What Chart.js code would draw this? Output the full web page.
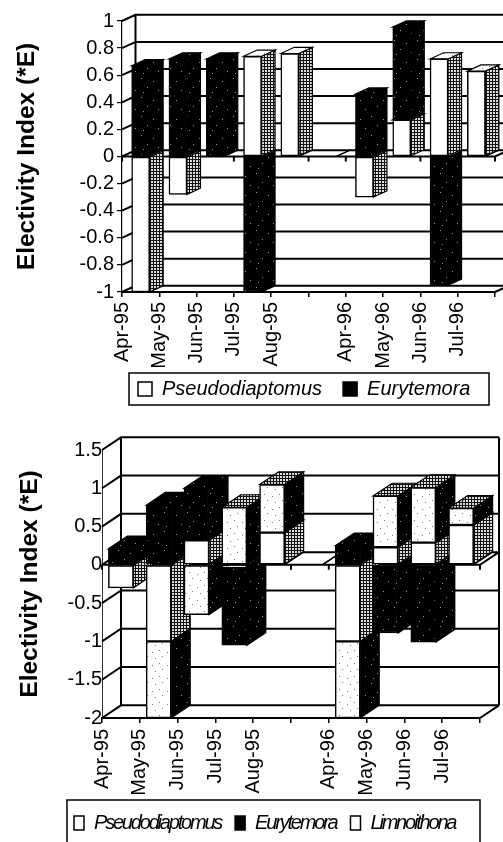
<!DOCTYPE html>
<html lang="en">
<head>
<meta charset="UTF-8">
<title>Electivity Index</title>
<script src="https://cdn.jsdelivr.net/npm/chart.js@4"></script>
<style>
html,body{margin:0;padding:0;background:#fff;overflow:hidden}
canvas{position:absolute;left:0}
</style>
</head>
<body>
<canvas id="top" width="503" height="415" style="top:0"></canvas>
<canvas id="bottom" width="503" height="427" style="top:415px"></canvas>
<script>
const months = ['Apr-95','May-95','Jun-95','Jul-95','Aug-95','','Apr-96','May-96','Jun-96','Jul-96'];

const topTicks = [1,0.8,0.6,0.4,0.2,0,-0.2,-0.4,-0.6,-0.8,-1];
const topPseudo = [-1,-0.28,null,0.74,0.76,null,-0.3,0.27,0.72,0.63];
const topEury = [0.67,0.72,0.72,-1,null,null,0.46,0.685,-0.95,null];

const bottomTicks = [1.5,1,0.5,0,-0.5,-1,-1.5,-2];
const bottomPseudo = [-0.3,-1,0.32,-0.03,0.42,null,-1,0.23,0.29,0.52];
const bottomEury = [0.21,0.78,0.68,-1.02,null,null,0.25,-0.89,-1.01,null];
const bottomLimno = [null,-1,-0.65,0.75,0.63,null,-1,0.67,0.72,0.22];

const FONT = "'Liberation Sans', Arial, sans-serif";
Chart.defaults.font.family = FONT;
Chart.defaults.color = '#000';

// small tiled fills standing in for the scanned halftones
function tile(w, h, bg, ink, dots) {
  const c = document.createElement('canvas');
  c.width = w; c.height = h;
  const g = c.getContext('2d');
  g.fillStyle = bg; g.fillRect(0, 0, w, h);
  g.fillStyle = ink;
  dots.forEach(d => g.fillRect(d[0], d[1], 1, 1));
  return g.createPattern(c, 'repeat');
}
const specked = tile(23, 19, '#000', '#999', [[3,2],[15,5],[9,11],[20,14],[5,16]]);
const dotted = tile(15, 13, '#fff', '#777', [[2,3],[9,1],[12,7],[5,9]]);
const hatch = tile(3, 3, '#ddd', '#111', [[0,0],[1,0],[2,0],[0,1],[0,2]]);

function series(label, values, front, side, roof, swatch) {
  return {
    label,
    data: values.map((v, i) => ({x: i + 0.5, y: v})),
    backgroundColor: front,
    borderColor: '#000',
    borderWidth: 1.5,
    borderSkipped: false,
    sideFill: side,
    roofFill: roof,
    swatch
  };
}

function makeChart(id, cfg) {
  const depth = {
    id: 'depth',
    afterLayout(chart) {
      const lg = chart.legend;
      lg.left = cfg.legendLeft;
      lg.right = lg.left + 480;
      lg.top = cfg.legendTop;
    },
    beforeDatasetsDraw(chart) {
      const ctx = chart.ctx, a = chart.chartArea;
      const y = chart.scales.y, x = chart.scales.x;
      const dx = cfg.dx, dy = cfg.dy;
      const y0 = y.getPixelForValue(0);
      ctx.save();
      ctx.strokeStyle = '#000';
      ctx.lineWidth = 2;
      ctx.beginPath();
      // back wall and side wall grid
      cfg.ticks.forEach(t => {
        const p = y.getPixelForValue(t);
        ctx.moveTo(a.left, p); ctx.lineTo(a.left + dx, p - dy);
        ctx.lineTo(a.right + dx, p - dy);
      });
      ctx.moveTo(a.left + dx, a.top - dy); ctx.lineTo(a.left + dx, a.bottom - dy);
      ctx.moveTo(a.right, a.bottom); ctx.lineTo(a.right + dx, a.bottom - dy);
      if (cfg.rightWall) {
        ctx.moveTo(a.right + dx, a.top - dy); ctx.lineTo(a.right + dx, a.bottom - dy);
      }
      // the zero plane with its own tick marks
      ctx.moveTo(a.left, y0); ctx.lineTo(a.right, y0); ctx.lineTo(a.right + dx, y0 - dy);
      x.ticks.forEach(t => {
        const p = x.getPixelForValue(t.value);
        ctx.moveTo(p, y0); ctx.lineTo(p, y0 + 5);
      });
      ctx.stroke();

      // sides and roofs, left to right so later columns overlap earlier ones
      ctx.lineWidth = 1.2;
      months.forEach((m, i) => {
        chart.data.datasets.forEach((ds, k) => {
          const el = chart.getDatasetMeta(k).data[i];
          if (!el || el.skip) return;
          const r = el.x + el.width / 2, l = el.x - el.width / 2;
          const up = Math.min(el.y, el.base), down = Math.max(el.y, el.base);
          ctx.fillStyle = ds.sideFill;
          ctx.beginPath();
          ctx.moveTo(r, up); ctx.lineTo(r + dx, up - dy);
          ctx.lineTo(r + dx, down - dy); ctx.lineTo(r, down);
          ctx.closePath(); ctx.fill(); ctx.stroke();
          if (el.y < el.base) {
            ctx.fillStyle = ds.roofFill;
            ctx.beginPath();
            ctx.moveTo(l, up); ctx.lineTo(l + dx, up - dy);
            ctx.lineTo(r + dx, up - dy); ctx.lineTo(r, up);
            ctx.closePath(); ctx.fill(); ctx.stroke();
          }
        });
      });
      ctx.restore();
    },
    afterDraw(chart) {
      const ctx = chart.ctx, f = cfg.frame;
      ctx.save();
      ctx.strokeStyle = '#000';
      ctx.lineWidth = 1.5;
      ctx.strokeRect(f[0], f[1], f[2], f[3]);
      ctx.restore();
    }
  };

  const canvas = document.getElementById(id);
  const chart = new Chart(canvas, {
    type: 'bar',
    data: {datasets: cfg.datasets},
    plugins: [{
      id: 'legendFit',
      // legend text spacing and box height differ between the two panels
      beforeLayout(c) {
        const lg = c.legend;
        if (lg.tuned) return;
        lg.tuned = true;
        const fit = lg.fit, draw = lg.draw;
        lg.fit = function () {
          c.ctx.letterSpacing = cfg.legendSpacing;
          fit.call(this);
          c.ctx.letterSpacing = '0px';
          this.height = cfg.legendHeight;
        };
        lg.draw = function () {
          c.ctx.letterSpacing = cfg.legendSpacing;
          draw.call(this);
          c.ctx.letterSpacing = '0px';
        };
      }
    }, depth],
    options: {
      responsive: false,
      animation: false,
      devicePixelRatio: 1,
      layout: {padding: {top: cfg.top, right: cfg.right, left: 0, bottom: cfg.bottom}},
      plugins: {
        tooltip: {enabled: false},
        legend: {
          position: 'bottom',
          align: 'start',
          labels: {
            boxWidth: cfg.swatchWidth,
            boxHeight: 14,
            padding: cfg.legendPad,
            font: {size: 20, style: 'italic', family: FONT},
            color: '#000',
            generateLabels: c => Chart.defaults.plugins.legend.labels.generateLabels(c).map(item => {
              item.fillStyle = c.data.datasets[item.datasetIndex].swatch;
              return item;
            })
          }
        }
      },
      scales: {
        x: {
          type: 'linear',
          min: 0,
          max: months.length,
          offset: false,
          stacked: true,
          afterFit: s => { s.height = cfg.axisHeight; s.paddingLeft = 0; s.paddingRight = 0; },
          grid: {offset: false, drawOnChartArea: false, tickLength: 5, color: '#000', lineWidth: 1.5},
          border: {color: '#000', width: 2},
          ticks: {
            stepSize: 1,
            autoSkip: false,
            minRotation: 90,
            maxRotation: 90,
            padding: cfg.labelPad,
            font: {size: 20},
            callback: v => months[v] || ''
          }
        },
        y: {
          min: cfg.ticks[cfg.ticks.length - 1],
          max: cfg.ticks[0],
          stacked: true,
          afterBuildTicks: s => { s.ticks = cfg.ticks.map(v => ({value: v})); },
          afterFit: s => { s.width = cfg.left; },
          grid: {drawOnChartArea: false, tickLength: cfg.yTick, color: '#000', lineWidth: 1.2},
          border: {color: '#000', width: cfg.yBorder},
          title: {
            display: true,
            text: 'Electivity Index (*E)',
            color: '#000',
            font: {size: 24.5, weight: 'bold'},
            padding: {top: cfg.titleInset, bottom: 0}
          },
          ticks: {
            padding: cfg.yPad,
            font: {size: 20},
            callback: v => String(v)
          }
        }
      }
    }
  });
  return chart;
}

makeChart('top', {
  ticks: topTicks,
  left: 122, right: 8, top: 21, bottom: 10,
  axisHeight: 81, labelPad: 5,
  dx: 13.5, dy: 6.2,
  yTick: 5, yPad: 3, yBorder: 1.2, titleInset: 13,
  legendLeft: 117, legendTop: 358, legendPad: 21, legendHeight: 32,
  legendSpacing: '0px', swatchWidth: 14,
  frame: [129, 373, 360, 32],
  datasets: [
    series('Pseudodiaptomus', topPseudo, '#fff', hatch, dotted, '#fff'),
    series('Eurytemora', topEury, specked, specked, specked, '#000')
  ].map(d => Object.assign(d, {barThickness: 18}))
});

makeChart('bottom', {
  ticks: bottomTicks,
  left: 102, right: 23, top: 35, bottom: 0,
  axisHeight: 82, labelPad: 6,
  dx: 19, dy: 12.7, rightWall: true,
  yTick: 0, yPad: 0, yBorder: 0.8, titleInset: 16,
  legendLeft: 60, legendTop: 384, legendPad: 14, legendHeight: 42,
  legendSpacing: '-2.2px', swatchWidth: 10,
  frame: [67, 385, 413, 60],
  datasets: [
    series('Pseudodiaptomus', bottomPseudo, '#fff', hatch, dotted, '#fff'),
    series('Eurytemora', bottomEury, specked, specked, specked, '#000'),
    series('Limnoithona', bottomLimno, dotted, specked, hatch, '#fff')
  ].map(d => Object.assign(d, {barThickness: 25}))
});
</script>
</body>
</html>
